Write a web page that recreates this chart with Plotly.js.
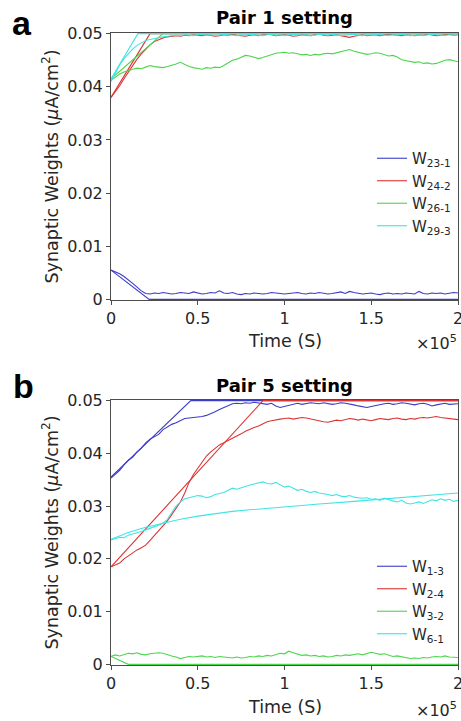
<!DOCTYPE html>
<html>
<head>
<meta charset="utf-8">
<script src="https://cdn.plot.ly/plotly-3.0.1.min.js"></script>
<style>html,body{margin:0;padding:0;background:#fff;}#plot{width:461px;height:721px;}</style>
</head>
<body>
<div id="plot"></div>
<script>
// ---- shared axis ticks ----
var xTickVals = [0, 50000, 100000, 150000, 200000];
var xTickText = ['0', '0.5', '1', '1.5', '2'];
var yTickVals = [0, 0.01, 0.02, 0.03, 0.04, 0.05];
// noisy simulation series sampled every 2500 s from 0 to 200000 s
var sampleStart = 0;
var sampleStep = 2500;

// ---- Panel a: Pair 1 setting ----
var aNames = ['W<sub>23-1</sub>', 'W<sub>24-2</sub>', 'W<sub>26-1</sub>', 'W<sub>29-3</sub>'];
var aW23_1 = [
 0.0055,0.0052,0.0048,0.0043,0.0037,0.0030,0.0023,0.0016,0.0011,0.0010,
 0.0012,0.0011,0.0013,0.0012,0.0010,0.0011,0.0013,0.0012,0.0011,0.0014,
 0.0012,0.0010,0.0011,0.0013,0.0012,0.0016,0.0012,0.0011,0.0013,0.0010,
 0.0009,0.0011,0.0010,0.0012,0.0011,0.0010,0.0011,0.0013,0.0012,0.0011,
 0.0010,0.0011,0.0012,0.0013,0.0011,0.0010,0.0012,0.0011,0.0013,0.0012,
 0.0010,0.0011,0.0012,0.0014,0.0011,0.0015,0.0013,0.0012,0.0010,0.0011,
 0.0012,0.0010,0.0009,0.0011,0.0012,0.0010,0.0011,0.0010,0.0012,0.0011,
 0.0010,0.0015,0.0011,0.0010,0.0012,0.0011,0.0012,0.0010,0.0011,0.0013,
 0.0012];
var aW24_2 = [
 0.0380,0.0390,0.0402,0.0415,0.0428,0.0440,0.0452,0.0462,0.0471,0.0479,
 0.0485,0.0489,0.0492,0.0494,0.0495,0.0496,0.0495,0.0497,0.0496,0.0498,
 0.0497,0.0496,0.0498,0.0497,0.0495,0.0496,0.0498,0.0497,0.0499,0.0497,
 0.0496,0.0495,0.0497,0.0498,0.0496,0.0497,0.0499,0.0498,0.0496,0.0497,
 0.0498,0.0497,0.0495,0.0496,0.0498,0.0497,0.0496,0.0498,0.0499,0.0497,
 0.0496,0.0497,0.0498,0.0496,0.0494,0.0493,0.0495,0.0497,0.0498,0.0496,
 0.0497,0.0498,0.0496,0.0497,0.0499,0.0498,0.0497,0.0496,0.0498,0.0497,
 0.0496,0.0498,0.0497,0.0499,0.0498,0.0496,0.0497,0.0498,0.0499,0.0497,
 0.0498];
var aW26_1 = [
 0.0412,0.0418,0.0424,0.0428,0.0431,0.0433,0.0435,0.0434,0.0437,0.0440,
 0.0438,0.0437,0.0436,0.0438,0.0440,0.0443,0.0446,0.0442,0.0438,0.0436,
 0.0434,0.0433,0.0436,0.0435,0.0437,0.0436,0.0440,0.0445,0.0450,0.0452,
 0.0456,0.0459,0.0458,0.0456,0.0453,0.0455,0.0458,0.0461,0.0463,0.0464,
 0.0465,0.0463,0.0464,0.0462,0.0460,0.0461,0.0459,0.0461,0.0460,0.0462,
 0.0463,0.0462,0.0464,0.0467,0.0468,0.0470,0.0467,0.0465,0.0463,0.0461,
 0.0462,0.0464,0.0463,0.0460,0.0458,0.0459,0.0456,0.0451,0.0449,0.0448,
 0.0446,0.0447,0.0444,0.0445,0.0443,0.0444,0.0447,0.0450,0.0451,0.0449,
 0.0447];
var aW29_3 = [
 0.0410,0.0426,0.0441,0.0453,0.0463,0.0471,0.0478,0.0483,0.0487,0.0489,
 0.0491,0.0493,0.0494,0.0495,0.0496,0.0497,0.0496,0.0498,0.0497,0.0496,
 0.0498,0.0499,0.0497,0.0498,0.0496,0.0497,0.0499,0.0498,0.0497,0.0496,
 0.0498,0.0497,0.0499,0.0498,0.0497,0.0496,0.0498,0.0499,0.0497,0.0498,
 0.0496,0.0497,0.0499,0.0498,0.0497,0.0498,0.0496,0.0497,0.0499,0.0498,
 0.0497,0.0499,0.0498,0.0496,0.0497,0.0498,0.0499,0.0497,0.0496,0.0498,
 0.0497,0.0499,0.0498,0.0497,0.0496,0.0498,0.0497,0.0499,0.0498,0.0496,
 0.0497,0.0498,0.0496,0.0497,0.0499,0.0498,0.0497,0.0496,0.0498,0.0497,
 0.0498];
// theory (piecewise) curves, panel a
var aTheoryT_23_1 = [0, 22000, 200000];  var aTheoryW_23_1 = [0.0055, 0, 0];
var aTheoryT_24_2 = [0, 22500, 200000];  var aTheoryW_24_2 = [0.038, 0.05, 0.05];
var aTheoryT_26_1 = [0, 30000, 200000];  var aTheoryW_26_1 = [0.0415, 0.05, 0.05];
var aTheoryT_29_3 = [0, 15500, 200000];  var aTheoryW_29_3 = [0.0415, 0.05, 0.05];

// ---- Panel b: Pair 5 setting ----
var bNames = ['W<sub>1-3</sub>', 'W<sub>2-4</sub>', 'W<sub>3-2</sub>', 'W<sub>6-1</sub>'];
var bW1_3 = [
 0.0353,0.0360,0.0368,0.0378,0.0387,0.0393,0.0403,0.0410,0.0420,0.0427,
 0.0431,0.0436,0.0445,0.0450,0.0455,0.0458,0.0462,0.0466,0.0467,0.0468,
 0.0468,0.0470,0.0472,0.0475,0.0479,0.0483,0.0487,0.0491,0.0494,0.0495,
 0.0494,0.0496,0.0495,0.0497,0.0496,0.0494,0.0493,0.0495,0.0490,0.0487,
 0.0489,0.0492,0.0494,0.0495,0.0493,0.0494,0.0496,0.0495,0.0494,0.0496,
 0.0495,0.0493,0.0494,0.0496,0.0495,0.0494,0.0492,0.0490,0.0488,0.0487,
 0.0489,0.0491,0.0493,0.0494,0.0495,0.0493,0.0494,0.0496,0.0495,0.0494,
 0.0492,0.0494,0.0495,0.0493,0.0490,0.0492,0.0494,0.0495,0.0493,0.0494,
 0.0494];
var bW2_4 = [
 0.0185,0.0188,0.0192,0.0200,0.0206,0.0211,0.0217,0.0221,0.0226,0.0235,
 0.0244,0.0252,0.0262,0.0272,0.0284,0.0296,0.0308,0.0325,0.0345,0.0360,
 0.0372,0.0385,0.0395,0.0403,0.0410,0.0416,0.0420,0.0424,0.0428,0.0433,
 0.0437,0.0442,0.0446,0.0449,0.0452,0.0456,0.0460,0.0462,0.0464,0.0465,
 0.0466,0.0467,0.0465,0.0466,0.0468,0.0467,0.0465,0.0463,0.0462,0.0460,
 0.0459,0.0461,0.0463,0.0462,0.0464,0.0466,0.0465,0.0463,0.0465,0.0463,
 0.0462,0.0464,0.0466,0.0465,0.0464,0.0466,0.0467,0.0465,0.0464,0.0466,
 0.0465,0.0467,0.0468,0.0467,0.0469,0.0470,0.0468,0.0467,0.0466,0.0465,
 0.0464];
var bW3_2 = [
 0.0015,0.0018,0.0016,0.0019,0.0021,0.0020,0.0022,0.0019,0.0018,0.0020,
 0.0021,0.0022,0.0021,0.0018,0.0016,0.0014,0.0011,0.0013,0.0015,0.0014,
 0.0015,0.0016,0.0014,0.0015,0.0013,0.0015,0.0014,0.0013,0.0012,0.0014,
 0.0012,0.0013,0.0015,0.0014,0.0016,0.0015,0.0017,0.0016,0.0019,0.0021,
 0.0020,0.0025,0.0022,0.0019,0.0017,0.0018,0.0016,0.0017,0.0015,0.0016,
 0.0014,0.0015,0.0017,0.0016,0.0018,0.0017,0.0019,0.0020,0.0018,0.0021,
 0.0023,0.0021,0.0019,0.0020,0.0017,0.0015,0.0016,0.0014,0.0012,0.0011,
 0.0012,0.0011,0.0013,0.0012,0.0014,0.0015,0.0014,0.0016,0.0014,0.0013,
 0.0013];
var bW6_1 = [
 0.0236,0.0238,0.0241,0.0240,0.0245,0.0247,0.0249,0.0252,0.0255,0.0258,
 0.0260,0.0264,0.0268,0.0275,0.0288,0.0300,0.0308,0.0314,0.0316,0.0318,
 0.0320,0.0319,0.0316,0.0318,0.0322,0.0324,0.0326,0.0330,0.0334,0.0332,
 0.0335,0.0338,0.0340,0.0342,0.0344,0.0346,0.0343,0.0342,0.0345,0.0340,
 0.0336,0.0338,0.0334,0.0330,0.0332,0.0328,0.0326,0.0328,0.0325,0.0324,
 0.0322,0.0320,0.0322,0.0319,0.0318,0.0320,0.0317,0.0316,0.0315,0.0316,
 0.0313,0.0314,0.0311,0.0315,0.0312,0.0310,0.0308,0.0311,0.0306,0.0304,
 0.0306,0.0308,0.0305,0.0309,0.0312,0.0310,0.0314,0.0311,0.0313,0.0309,
 0.0311];
// theory curves, panel b
var bTheoryT_1_3 = [0, 46000, 200000];  var bTheoryW_1_3 = [0.0355, 0.05, 0.05];
var bTheoryT_2_4 = [0, 87600, 200000];  var bTheoryW_2_4 = [0.0185, 0.05, 0.05];
var bTheoryT_3_2 = [0, 10000, 200000];  var bTheoryW_3_2 = [0.0015, 0, 0];
var bTheoryT_6_1 = [0, 10000, 20000, 30000, 40000, 50000, 60000, 70000, 80000, 100000, 120000, 140000, 160000, 180000, 200000];
var bTheoryW_6_1 = [0.0237, 0.0250, 0.0260, 0.0268, 0.0275, 0.0281, 0.0286, 0.0290, 0.0293, 0.0299, 0.0304, 0.0309, 0.0314, 0.0320, 0.0325];

// ---- styling ----
var colors = ['#3c3cc8', '#dc3434', '#4cd64c', '#40e4e4'];
var LW = 1.1;
var txt = '#262626';
var FONT = 'DejaVu Sans';

function noisy(y, name, color, xa, ya, leg) {
  return {type: 'scatter', mode: 'lines', x0: sampleStart, dx: sampleStep, y: y, name: name,
    line: {color: color, width: LW}, xaxis: xa, yaxis: ya, legend: leg, hoverinfo: 'skip'};
}
function theory(x, y, color, xa, ya) {
  return {type: 'scatter', mode: 'lines', x: x, y: y, showlegend: false,
    line: {color: color, width: LW}, xaxis: xa, yaxis: ya, hoverinfo: 'skip'};
}

var data = [
  noisy(aW23_1, aNames[0], colors[0], 'x', 'y', 'legend'),
  theory(aTheoryT_23_1, aTheoryW_23_1, colors[0], 'x', 'y'),
  noisy(aW24_2, aNames[1], colors[1], 'x', 'y', 'legend'),
  theory(aTheoryT_24_2, aTheoryW_24_2, colors[1], 'x', 'y'),
  noisy(aW26_1, aNames[2], colors[2], 'x', 'y', 'legend'),
  theory(aTheoryT_26_1, aTheoryW_26_1, colors[2], 'x', 'y'),
  noisy(aW29_3, aNames[3], colors[3], 'x', 'y', 'legend'),
  theory(aTheoryT_29_3, aTheoryW_29_3, colors[3], 'x', 'y'),

  noisy(bW1_3, bNames[0], colors[0], 'x2', 'y2', 'legend2'),
  theory(bTheoryT_1_3, bTheoryW_1_3, colors[0], 'x2', 'y2'),
  noisy(bW2_4, bNames[1], colors[1], 'x2', 'y2', 'legend2'),
  theory(bTheoryT_2_4, bTheoryW_2_4, colors[1], 'x2', 'y2'),
  noisy(bW3_2, bNames[2], colors[2], 'x2', 'y2', 'legend2'),
  theory(bTheoryT_3_2, bTheoryW_3_2, colors[2], 'x2', 'y2'),
  noisy(bW6_1, bNames[3], colors[3], 'x2', 'y2', 'legend2'),
  theory(bTheoryT_6_1, bTheoryW_6_1, colors[3], 'x2', 'y2')
];

var W = 461, H = 721;
function px(x) { return x / W; }
function py(y) { return 1 - y / H; }

var plotL = 111, plotR = 458;
var aTop = 33, aBot = 300, bTop = 400, bBot = 665;

function xAxis(anchor) {
  return {domain: [px(plotL), px(plotR)], anchor: anchor, range: [0, 200000],
    tickmode: 'array', tickvals: xTickVals, ticktext: xTickText,
    showline: true, mirror: true, linecolor: '#4d4d4d', linewidth: 1,
    ticks: 'outside', ticklen: 4, tickcolor: '#4d4d4d', showgrid: false, zeroline: false,
    ticklabeloverflow: 'allow',
    tickfont: {family: FONT, size: 16, color: txt}, layer: 'below traces', fixedrange: true};
}
function yAxis(anchor, top, bot) {
  return {domain: [py(bot), py(top)], anchor: anchor, range: [-0.00012, 0.05012],
    tickmode: 'array', tickvals: yTickVals,
    showline: true, mirror: true, linecolor: '#4d4d4d', linewidth: 1,
    ticks: 'outside', ticklen: 4, tickcolor: '#4d4d4d', showgrid: false, zeroline: false,
    ticklabeloverflow: 'allow',
    tickfont: {family: FONT, size: 16, color: txt}, layer: 'below traces', fixedrange: true};
}

var ann = [];
function addAnn(text, x, y, size, opts) {
  var a = {text: text, x: px(x), y: py(y), xref: 'paper', yref: 'paper', showarrow: false,
    font: {family: FONT, size: size, color: txt}, xanchor: 'center', yanchor: 'middle'};
  for (var k in opts) a[k] = opts[k];
  ann.push(a);
}
addAnn('<b>Pair 1 setting</b>', 284.5, 18, 18, {font: {family: FONT, size: 18, color: '#000'}});
addAnn('<b>Pair 5 setting</b>', 284.5, 385, 18, {font: {family: FONT, size: 18, color: '#000'}});
addAnn('Synaptic Weights (<i>μ</i>A/cm<sup>2</sup>)', 50, (aTop + aBot) / 2, 17.5, {textangle: -90});
addAnn('Synaptic Weights (<i>μ</i>A/cm<sup>2</sup>)', 50, (bTop + bBot) / 2, 17.5, {textangle: -90});
addAnn('Time (S)', 284.5, 341, 17.5, {});
addAnn('Time (S)', 284.5, 707, 17.5, {});
addAnn('×10<sup>5</sup>', 459, 342, 16, {xanchor: 'right'});
addAnn('×10<sup>5</sup>', 459, 709, 16, {xanchor: 'right'});
addAnn('<b>a</b>', 22, 23, 34, {font: {family: 'Liberation Sans', size: 34, color: '#000'}});
addAnn('<b>b</b>', 23, 386, 34, {font: {family: 'Liberation Sans', size: 34, color: '#000'}});

function legendCfg(top) {
  return {x: px(372), y: py(top), xanchor: 'left', yanchor: 'top', bgcolor: 'rgba(0,0,0,0)',
    borderwidth: 0, font: {family: FONT, size: 15, color: txt}, itemwidth: 30, tracegroupgap: 0};
}

var layout = {
  width: W, height: H, autosize: false,
  margin: {l: 0, r: 0, t: 0, b: 0, pad: 0},
  paper_bgcolor: '#fff', plot_bgcolor: '#fff',
  showlegend: true,
  xaxis: xAxis('y'), yaxis: yAxis('x', aTop, aBot),
  xaxis2: xAxis('y2'), yaxis2: yAxis('x2', bTop, bBot),
  legend: legendCfg(142),
  legend2: legendCfg(550),
  annotations: ann
};

Plotly.newPlot('plot', data, layout, {staticPlot: true, displayModeBar: false});
</script>
</body>
</html>
